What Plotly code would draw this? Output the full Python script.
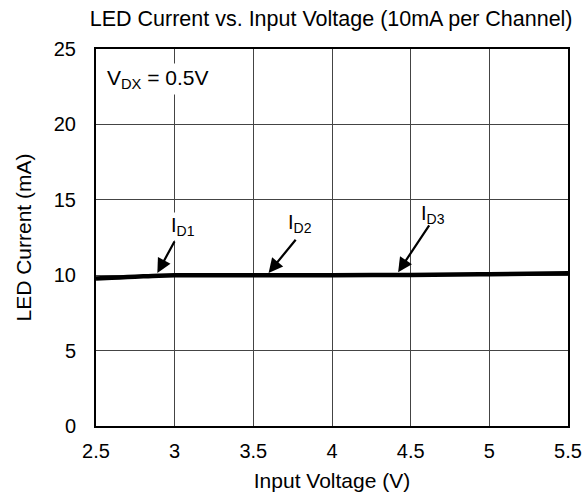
import plotly.graph_objects as go

# input voltage (V) and LED current (mA)
vin = [2.5, 2.6, 2.7, 2.8, 2.9, 3.0, 3.5, 4.0, 4.5, 5.0, 5.5]
iled = [9.78, 9.83, 9.88, 9.93, 9.97, 9.99, 10.0, 10.0, 10.02, 10.07, 10.13]

x_ticks = [2.5, 3, 3.5, 4, 4.5, 5, 5.5]
y_ticks = [0, 5, 10, 15, 20, 25]

# channel labels: text position, arrow tail, arrow head
ch_labels = ["I<sub>D1</sub>", "I<sub>D2</sub>", "I<sub>D3</sub>"]
ch_text_x = [3.05, 3.795, 4.64]
ch_text_y = [13.25, 13.45, 14.05]
ch_tail_x = [3.004, 3.777, 4.624]
ch_tail_y = [12.33, 12.45, 13.4]
ch_head_x = [2.89, 3.597, 4.42]
ch_head_y = [10.15, 10.15, 10.2]

FONT = "Liberation Sans, Arial, sans-serif"

fig = go.Figure()
fig.add_trace(go.Scatter(
    x=vin, y=iled, mode="lines",
    line=dict(color="black", width=4.5, shape="spline"),
    showlegend=False, hoverinfo="skip", cliponaxis=False,
))

for lab, tx, ty in zip(ch_labels, ch_text_x, ch_text_y):
    fig.add_annotation(x=tx, y=ty, xref="x", yref="y", text=lab,
                       showarrow=False, font=dict(size=20, color="black"),
                       bgcolor="white", borderpad=1)

for ax_, ay_, hx, hy in zip(ch_tail_x, ch_tail_y, ch_head_x, ch_head_y):
    fig.add_annotation(x=hx, y=hy, xref="x", yref="y",
                       ax=ax_, ay=ay_, axref="x", ayref="y",
                       text="", showarrow=True, arrowhead=2,
                       arrowsize=1.3, arrowwidth=2.2, arrowcolor="black")

fig.add_annotation(x=2.55, y=23.0, xref="x", yref="y", xanchor="left",
                   text="V<sub>DX</sub> = 0.5V", showarrow=False,
                   font=dict(size=21, color="black"), bgcolor="white", borderpad=2)

fig.update_layout(
    width=583, height=501,
    margin=dict(l=96, r=15, t=49, b=75),
    paper_bgcolor="white", plot_bgcolor="white",
    font=dict(family=FONT, color="black", size=20),
    title=dict(text="LED Current vs. Input Voltage (10mA per Channel)",
               x=0.568, xanchor="center", y=0.963, yanchor="middle",
               font=dict(size=21.5)),
    xaxis=dict(
        range=[2.5, 5.5], tickvals=x_ticks, ticktext=[str(v) for v in x_ticks],
        showgrid=True, gridcolor="#444444", gridwidth=1,
        showline=True, linecolor="black", linewidth=2, mirror=True,
        zeroline=False, ticks="", ticklabelstandoff=6, automargin=False,
        title=dict(text="Input Voltage (V)", font=dict(size=21), standoff=12),
    ),
    yaxis=dict(
        range=[0, 25], tickvals=y_ticks,
        showgrid=True, gridcolor="#444444", gridwidth=1,
        showline=True, linecolor="black", linewidth=2, mirror=True,
        zeroline=False, ticks="", ticklabelstandoff=14, automargin=False,
        title=dict(text="LED Current (mA)", font=dict(size=21), standoff=16),
    ),
)

fig.write_html("out.html", config={"displayModeBar": False},
               post_script="document.body.style.margin='0';")
